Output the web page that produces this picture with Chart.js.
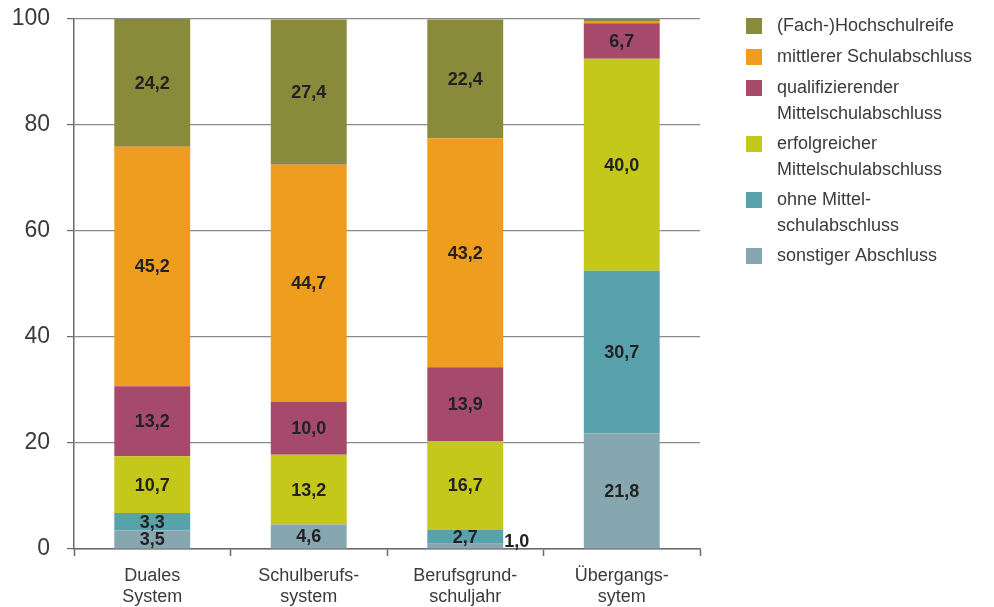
<!DOCTYPE html>
<html>
<head>
<meta charset="utf-8">
<script src="https://cdn.jsdelivr.net/npm/chart.js@4"></script>
<style>
  html, body { margin: 0; padding: 0; background: #fff; }
  #wrap { width: 994px; height: 607px; }
</style>
</head>
<body>
<div id="wrap"><canvas id="abschluss-chart" width="994" height="607"></canvas></div>
<script>
// categories (x axis)
const categories = [
  ["Duales", "System"],
  ["Schulberufs-", "system"],
  ["Berufsgrund-", "schuljahr"],
  ["Übergangs-", "sytem"]
];

// series, bottom of the stack first
const sonstiger = [3.5, 4.6, 1.0, 21.8];
const ohneMittel = [3.3, 0, 2.7, 30.7];
const erfolgreicher = [10.7, 13.2, 16.7, 40.0];
const qualifizierender = [13.2, 10.0, 13.9, 6.7];
const mittlerer = [45.2, 44.7, 43.2, 0.4];
const hochschulreife = [24.2, 27.4, 22.4, 0.4];

const seriesNames = [
  ["sonstiger Abschluss"],
  ["ohne Mittel-", "schulabschluss"],
  ["erfolgreicher", "Mittelschulabschluss"],
  ["qualifizierender", "Mittelschulabschluss"],
  ["mittlerer Schulabschluss"],
  ["(Fach-)Hochschulreife"]
];
const seriesColors = ["#87a7b0", "#59a1ab", "#c4c81a", "#a54a6b", "#ef9d1e", "#8a8a3b"];
const yTicks = [0, 20, 40, 60, 80, 100];

const FONT = "'Liberation Sans', Arial, sans-serif";
const TEXT = "#3a3a3a";

const seriesData = [sonstiger, ohneMittel, erfolgreicher, qualifizierender, mittlerer, hochschulreife];

// value labels inside the bar segments
const valueLabels = {
  id: "valueLabels",
  afterDatasetsDraw(chart) {
    const ctx = chart.ctx;
    ctx.save();
    ctx.font = "bold 18px " + FONT;
    ctx.fillStyle = "#222";
    ctx.textBaseline = "middle";
    chart.data.datasets.forEach((ds, i) => {
      const meta = chart.getDatasetMeta(i);
      meta.data.forEach((bar, j) => {
        const v = ds.data[j];
        if (v < 1) return;
        const txt = v.toFixed(1).replace(".", ",");
        const midY = (bar.y + bar.base) / 2;
        if (v < 2) {
          // too small: put it next to the bar
          ctx.textAlign = "left";
          ctx.fillText(txt, bar.x + bar.width / 2 + 1, midY - 4);
        } else {
          ctx.textAlign = "center";
          ctx.fillText(txt, bar.x, midY + 1);
        }
      });
    });
    ctx.restore();
  }
};

// legend on the right, top entry first, multi-line labels
const sideLegend = {
  id: "sideLegend",
  afterDraw(chart) {
    const ctx = chart.ctx;
    ctx.save();
    ctx.font = "18px " + FONT;
    ctx.textAlign = "left";
    ctx.textBaseline = "middle";
    let y = 26;
    for (let k = seriesNames.length - 1; k >= 0; k--) {
      const lines = seriesNames[k];
      ctx.fillStyle = seriesColors[k];
      ctx.fillRect(746, y - 8, 16, 16);
      ctx.fillStyle = TEXT;
      lines.forEach((line, n) => ctx.fillText(line, 777, y + n * 26));
      y += 31 + 25 * (lines.length - 1);
    }
    ctx.restore();
  }
};

function createChart() {
  const ctx = document.getElementById("abschluss-chart").getContext("2d");
  new Chart(ctx, {
    type: "bar",
    data: {
      labels: categories,
      datasets: seriesData.map((values, i) => ({
        label: seriesNames[i].join(" "),
        data: values,
        backgroundColor: seriesColors[i],
        borderWidth: 0,
        categoryPercentage: 1,
        barPercentage: 0.485
      }))
    },
    options: {
      responsive: false,
      animation: false,
      layout: { padding: { top: 19, right: 294, left: 0, bottom: 0 } },
      plugins: {
        legend: { display: false },
        tooltip: { enabled: false }
      },
      scales: {
        x: {
          stacked: true,
          grid: {
            offset: true,
            drawOnChartArea: false,
            drawTicks: true,
            tickLength: 7,
            tickColor: "#6a6a6a",
            tickWidth: 1.5
          },
          border: { color: "#6a6a6a", width: 1.5 },
          ticks: {
            color: TEXT,
            font: { family: FONT, size: 18, lineHeight: 1.2 },
            padding: 9,
            maxRotation: 0
          },
          afterFit: (scale) => {
            scale.height = 58;
            scale.paddingLeft = 0;
            scale.paddingRight = 0;
          }
        },
        y: {
          stacked: true,
          min: 0,
          max: 100,
          afterBuildTicks: (scale) => {
            scale.ticks = yTicks.map((v) => ({ value: v }));
          },
          grid: {
            color: "#8a8a8a",
            lineWidth: 1.2,
            tickLength: 7,
            tickColor: "#6a6a6a"
          },
          border: { color: "#6a6a6a", width: 1.5 },
          ticks: {
            color: TEXT,
            font: { family: FONT, size: 23 },
            padding: 17
          },
          afterFit: (scale) => {
            scale.width = 74;
            scale.paddingTop = 0;
            scale.paddingBottom = 0;
          }
        }
      }
    },
    plugins: [valueLabels, sideLegend]
  });
}

document.addEventListener("DOMContentLoaded", createChart);
</script>
</body>
</html>
